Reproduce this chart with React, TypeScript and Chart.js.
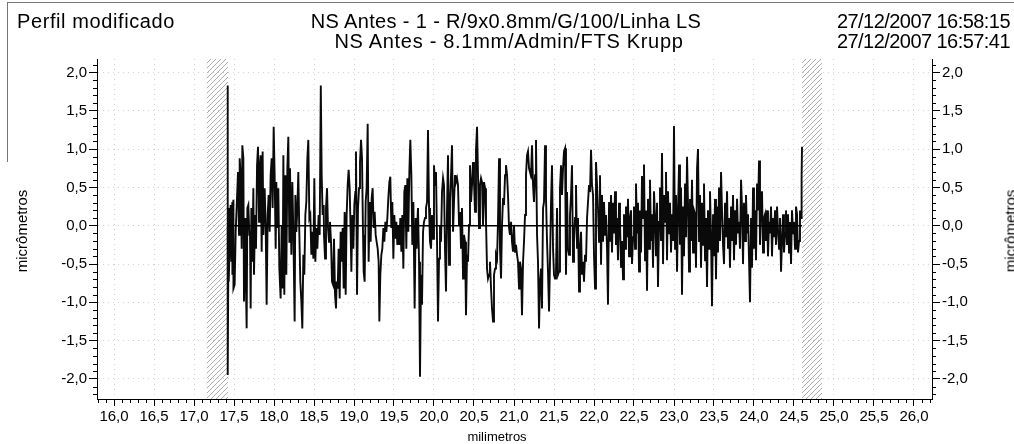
import { useEffect, useRef } from "react";
import { Chart, registerables } from "chart.js";

Chart.register(...registerables);

// ---- Data (millimetres along the profile, micrometres of deviation) ----
const profileMm = [
  17.42, 17.421, 17.422, 17.433, 17.434, 17.45, 17.458, 17.467, 17.479, 17.48, 17.492, 17.493, 17.508, 17.521, 17.533, 17.55,
  17.563, 17.571, 17.583, 17.596, 17.604, 17.617, 17.625, 17.638, 17.65, 17.658, 17.667, 17.679, 17.692, 17.7, 17.708, 17.717,
  17.729, 17.742, 17.75, 17.763, 17.775, 17.788, 17.8, 17.813, 17.821, 17.833, 17.846, 17.858, 17.867, 17.883, 17.896, 17.908,
  17.921, 17.933, 17.946, 17.958, 17.971, 17.983, 17.996, 18.008, 18.021, 18.029, 18.042, 18.054, 18.067, 18.083, 18.096, 18.108,
  18.117, 18.129, 18.142, 18.154, 18.167, 18.179, 18.192, 18.2, 18.217, 18.229, 18.242, 18.258, 18.267, 18.279, 18.292, 18.304,
  18.317, 18.329, 18.342, 18.354, 18.367, 18.379, 18.392, 18.404, 18.417, 18.429, 18.442, 18.454, 18.467, 18.479, 18.492, 18.504,
  18.517, 18.529, 18.542, 18.558, 18.571, 18.585, 18.596, 18.608, 18.621,
  18.625, 18.638, 18.65, 18.663, 18.675, 18.688, 18.7, 18.713, 18.725, 18.738, 18.75, 18.763, 18.775, 18.783, 18.796, 18.808,
  18.821, 18.833, 18.846, 18.858, 18.871, 18.883, 18.896, 18.908, 18.921, 18.933, 18.946, 18.958, 18.967, 18.979, 18.992, 19.004,
  19.017, 19.025, 19.038, 19.05, 19.063, 19.075, 19.088, 19.1, 19.113, 19.121, 19.133, 19.146, 19.158, 19.171, 19.183, 19.196,
  19.208, 19.221, 19.233, 19.246, 19.258, 19.271, 19.283, 19.296, 19.308, 19.317, 19.329, 19.342, 19.354, 19.367, 19.379, 19.392,
  19.404, 19.417, 19.429, 19.442, 19.454, 19.467, 19.479, 19.492, 19.504, 19.517, 19.529, 19.542, 19.554, 19.567, 19.579, 19.592,
  19.604, 19.617, 19.629, 19.642, 19.654, 19.667, 19.679, 19.692, 19.704, 19.717, 19.729, 19.742, 19.758, 19.771, 19.783, 19.796,
  19.8, 19.813, 19.825, 19.838, 19.85, 19.863, 19.875, 19.888, 19.9, 19.913, 19.925, 19.938, 19.95, 19.963, 19.975, 19.988,
  20.0, 20.013, 20.025, 20.038, 20.05, 20.063, 20.075, 20.088, 20.1, 20.113, 20.125, 20.138, 20.15, 20.163, 20.175, 20.188,
  20.2, 20.213, 20.225, 20.238, 20.25, 20.263, 20.275, 20.288, 20.3, 20.313, 20.325, 20.338, 20.35, 20.363, 20.375, 20.388,
  20.4, 20.413, 20.425, 20.438, 20.45, 20.463, 20.475, 20.488, 20.5, 20.513, 20.525, 20.538, 20.55, 20.563, 20.575, 20.588,
  20.6, 20.613, 20.625, 20.638, 20.65, 20.663, 20.675, 20.688, 20.7, 20.713, 20.725, 20.738, 20.75, 20.763, 20.775, 20.788,
  20.8, 20.813, 20.825, 20.838, 20.85, 20.863, 20.875, 20.888, 20.9, 20.913, 20.925, 20.938, 20.95, 20.963, 20.975, 20.988,
  21.0, 21.013,
  21.025, 21.038, 21.05, 21.063, 21.075, 21.088, 21.1, 21.113, 21.125, 21.138, 21.15, 21.163, 21.175, 21.188, 21.2, 21.213,
  21.225, 21.238, 21.25, 21.263, 21.275, 21.288, 21.3, 21.313, 21.325, 21.338, 21.35, 21.363, 21.375, 21.388, 21.4, 21.413,
  21.425, 21.438, 21.45, 21.463, 21.475, 21.488, 21.5, 21.513, 21.525, 21.538, 21.55, 21.563, 21.575, 21.588, 21.6, 21.613,
  21.625, 21.638, 21.65, 21.663, 21.675, 21.688, 21.7, 21.713, 21.725, 21.738, 21.75, 21.763, 21.775, 21.788, 21.8, 21.813,
  21.825, 21.838, 21.85, 21.863, 21.875, 21.888, 21.9, 21.913, 21.925, 21.938, 21.95, 21.963, 21.975, 21.988, 22.0, 22.013,
  22.025, 22.038, 22.05, 22.063, 22.075, 22.088, 22.1, 22.113, 22.125, 22.138, 22.15, 22.163, 22.175, 22.188, 22.2, 22.213,
  22.225, 22.238, 22.25, 22.263, 22.275, 22.288, 22.3, 22.313, 22.325, 22.338, 22.35, 22.363, 22.375, 22.388, 22.4, 22.413,
  22.425, 22.438, 22.45, 22.463, 22.475, 22.488, 22.5, 22.513, 22.525, 22.538, 22.55, 22.563, 22.575, 22.588, 22.6, 22.613,
  22.625, 22.638, 22.65, 22.663, 22.675, 22.688, 22.7, 22.713, 22.725, 22.738, 22.75, 22.763, 22.775, 22.788, 22.8, 22.813,
  22.825, 22.838, 22.85, 22.863, 22.875, 22.888, 22.9, 22.913, 22.925, 22.938, 22.95, 22.963, 22.975, 22.988, 23.0, 23.013,
  23.025, 23.038, 23.05, 23.063, 23.075, 23.088, 23.1, 23.113, 23.125, 23.138, 23.15, 23.163, 23.175, 23.188, 23.2, 23.213,
  23.225, 23.238, 23.25, 23.263, 23.275, 23.288, 23.3, 23.313, 23.325, 23.338, 23.35, 23.363, 23.375, 23.388, 23.4, 23.413,
  23.425, 23.438, 23.45, 23.463, 23.475, 23.488, 23.5, 23.513, 23.525, 23.538, 23.55, 23.563, 23.575, 23.588, 23.6, 23.613,
  23.625, 23.638, 23.65, 23.663, 23.675, 23.688, 23.7, 23.713, 23.725, 23.738, 23.75, 23.763, 23.775, 23.788, 23.8, 23.813,
  23.825, 23.838, 23.85, 23.863, 23.875, 23.888, 23.9, 23.913, 23.925, 23.938, 23.95, 23.963, 23.975, 23.988, 24.0, 24.013,
  24.025, 24.038, 24.05, 24.063, 24.075, 24.088, 24.1, 24.113, 24.125, 24.138, 24.15, 24.163, 24.175, 24.188, 24.2, 24.213,
  24.225, 24.238, 24.25, 24.263, 24.275, 24.288, 24.3, 24.313, 24.325, 24.338, 24.35, 24.363, 24.375, 24.388, 24.4, 24.413,
  24.425, 24.438, 24.45, 24.463, 24.475, 24.488, 24.5, 24.513, 24.525, 24.538, 24.55, 24.563, 24.575, 24.588, 24.595, 24.6,
];

const profileUm = [
  0, 1.83, -1.95, 0.23, -0.73, -0.08, 0.27, -0.47, 0.31, -0.64, 0.34, -0.82, -0.77, -0.08, 0.23, 0.70,
  -0.12, 0.88, 0.66, -0.30, 1.05, 0.88, -0.99, 0.10, -0.82, -1.34, 0.23, 0.27, -0.12, -0.08, -1.08, 0.23,
  -0.47, 0.49, -0.64, 0.14, -0.30, 0.79, 1.03, 0.05, 0.75, 0.92, -0.34, 0.97, -0.12, 0.49, 0.01, -1.03,
  0.14, 0.40, -0.08, 0.66, 0.88, 0.23, 1.29, 0.66, -0.30, 0.57, -0.03, 0.49, -0.56, -0.95, 0.01, -0.82,
  0.92, -0.90, 0.66, -0.64, 0.75, 1.16, -0.21, 0.75, -0.38, 0.57, -0.08, -1.25, 0.40, -0.08, 0.23, 0.70,
  -0.12, -0.73, -0.99, -1.34, -0.38, -0.64, 0.14, 0.31, 0.88, 1.12, 0.10, 0.14, -0.38, -0.08, -0.43, 0.62,
  -0.47, -0.03, -0.30, 0.14, -0.12, 1.83, 0.66, 0.14, 0.27,
  -0.12, -0.43, 0.23, 0.49, -0.03, -0.21, 0.05, -0.21, -0.73, -0.77, -0.17, -0.90, -1.08, -0.73, -0.82, -0.30,
  -0.95, -0.08, -0.47, -0.03, -0.82, 0.18, -0.90, 0.14, 0.53, 0.73, 0.49, -0.08, -0.60, 0.14, -0.30, 0.27,
  0.44, 0.97, -0.90, 0.23, 0.49, 0.83, 1.12, 0.88, -0.12, -0.60, -0.73, 0.31, 0.49, 1.33, -0.47, 0.31,
  -0.21, 0.36, 0.49, -0.03, 0.18, -0.12, -0.21, -0.30, -0.47, -1.25, -0.64, -0.38, -0.30, -0.03, -0.21, 0.05,
  -0.08, 0.10, 0.36, 0.57, 0.64, -0.03, 0.31, -0.43, 0.14, -0.17, 0.05, -0.25, 0.01, -0.25, 0.10, -0.34,
  0.14, -0.56, 0.44, 0.53, -0.30, 0.62, -0.08, 0.70, 1.12, 0.66, -0.25, 0.31, -1.08, 0.10, -0.30, 0.14,
  0.23, -0.47, -1.97, -0.64, -1.03, -0.08, 0.05, 0.10, 0.23, 0.31, 1.25, 0.23, -0.21, -0.30, 0.14, -0.17,
  0.79, 0.53, 0.70, -0.21, -1.25, -0.43, 0.01, -0.21, 0.44, 0.62, 0.53, -0.34, -0.86, 0.23, 0.92, -0.51,
  0.31, 0.66, 1.05, -0.08, 0.31, 0.66, 0.57, 0.62, 0.53, 0.01, 0.18, -0.30, 0.23, -0.69, -0.12, -0.21,
  -1.17, -0.38, -0.47, 0.01, 0.79, 0.31, 0.53, 0.83, 0.57, 0.18, 0.99, 1.29, 0.66, -0.03, 0.53, 0.62,
  0.57, 0.01, 0.57, 0.49, 0.05, -0.56, -0.69, -0.64, -0.47, -0.82, -1.08, -1.25, -0.64, -0.56, -0.38, -0.43,
  0.05, 0.88, -0.30, -0.69, 0.01, 0.36, 0.27, 0.66, 0.79, 0.66, 0.40, -0.03, -0.12, 0.05, -0.21, -0.34,
  0.01, -0.34,
  -0.25, -0.38, -0.47, -0.82, -0.47, -0.56, -1.17, -0.47, -0.21, 0.14, 0.66, 0.92, 0.97, 0.75, 0.70, 0.66,
  1.05, 0.53, 0.31, 0.66, 1.12, -0.12, -0.47, -1.34, -0.73, -0.56, -1.08, 0.23, 0.31, 1.05, 0.36, -0.21,
  -0.60, -1.12, -0.47, 0.31, 0.79, -0.30, -0.64, -0.69, -0.60, 0.23, -0.64, -0.60, 0.49, 0.79, 0.40, 0.75,
  0.97, 1.01, -0.64, 0.44, -0.30, -0.38, 0.14, 0.40, 0.79, -0.47, -0.21, 0.10, 0.53, -0.30, 0.10, -0.86,
  -0.30, -0.08, -0.64, -0.47, -0.73, -0.38, -0.47, 0.10, 0.31, 0.53, 0.44, 0.99, 0.53, 0.40, -0.38, -0.82,
  0.83, 0.53, 0.23, -0.21, 0.66, -0.51, 0.40, -0.21, 0.31, -0.12, 0.14, -0.30, -1.03, 0.31, -0.21, 0.40,
  -0.35, 0.30, -0.10, 0.45, -0.25, 0.10, -0.45, 0.30, 0.05, -0.55, -0.20, -0.70, 0.15, -0.30, 0.25, -0.15,
  0.35, -0.40, 0.10, 0.20, -0.50, -0.15, 0.25, -0.30, 0.55, -0.10, 0.30, -0.60, 0.20, -0.35, 0.65, 0.10,
  0.80, -0.45, 0.20, -0.85, 0.35, -0.30, 0.60, -0.20, 0.15, -0.55, 0.45, 0.10, -0.40, 0.30, -0.80, 0.05,
  0.50, -0.20, 0.95, -0.50, 0.40, 0.05, 0.70, -0.45, 0.45, -0.10, 0.30, -0.35, 0.15, -0.20, 1.30, -0.30,
  0.40, -0.60, 0.20, 0.80, -0.25, 0.50, -0.90, 0.25, -0.40, 0.55, -0.15, 0.90, 0.30, -0.60, 0.35, -0.20,
  0.60, -0.35, 0.20, 0.15, -0.55, 0.75, 1.00, -0.20, 0.40, -0.55, 0.30, -0.25, 0.55, -0.45, 0.10, -0.80,
  0.20, -0.30, 0.45, -0.15, -1.05, 0.15, -0.40, 0.35, -0.70, 0.25, -0.35, 0.50, -0.20, 0.70, 0.20, -0.25,
  -0.50, 0.30, -0.15, 0.45, -0.30, 0.10, -0.55, 0.25, -0.20, 0.40, -0.45, 0.20, -0.25, 0.35, -0.10, 0.05,
  -0.30, 0.60, 0.25, -0.50, 0.30, -0.20, 0.40, -0.10, 0.15, -0.45, -1.00, 0.10, -0.55, 0.50, -0.30, 0.20,
  -0.45, 0.55, 0.20, 0.85, -0.25, 0.30, 0.45, -0.35, 0.10, 0.15, -0.20, 0.20, -0.40, 0.05, -0.10, 0.25,
  -0.40, 0.10, -0.15, 0.20, -0.25, 0.25, -0.05, -0.30, 0.10, -0.60, -0.20, 0.15, -0.35, -0.10, 0.20, -0.25,
  0.15, -0.35, 0.05, -0.50, 0.20, -0.10, 0.05, -0.30, 0.25, 0.15, -0.35, -0.20, 0.20, 0.10, 0.63, 1.03,
];

// mean (reference) line of the evaluated profile
const meanLineMm = [17.42, 24.6];
const meanLineUm = [0, 0];

// excluded (hatched) zones at both ends of the evaluation length
const hatchStartMm = [17.16, 24.6];
const hatchEndMm = [17.425, 24.85];

// axis ranges
const X_MIN = 15.7875;
const X_MAX = 26.225;
const Y_MIN = -2.262;
const Y_MAX = 2.176;

const titleLeft = "Perfil modificado";
const titleCenter1 = "NS Antes - 1 - R/9x0.8mm/G/100/Linha LS";
const titleCenter2 = "NS Antes - 8.1mm/Admin/FTS Krupp";
const titleDate1 = "27/12/2007 16:58:15";
const titleDate2 = "27/12/2007 16:57:41";
const yTitle = "micrômetros";
const xTitle = "milimetros";

const FONT = "'Liberation Sans', Arial, Helvetica, sans-serif";
const fmt = (v: number) => v.toFixed(1).replace(".", ",");

function makeHatch(): CanvasPattern | string {
  const c = document.createElement("canvas");
  c.width = 5;
  c.height = 5;
  const g = c.getContext("2d");
  if (!g) return "#ccc";
  g.strokeStyle = "#959595";
  g.lineWidth = 0.8;
  g.beginPath();
  g.moveTo(-1, 6);
  g.lineTo(6, -1);
  g.stroke();
  const p = g.createPattern(c, "repeat");
  return p || "#ccc";
}

const hatchPlugin = {
  id: "hatchBands",
  beforeDatasetsDraw(chart: any) {
    const { ctx, chartArea } = chart;
    const xs = chart.scales.x;
    ctx.save();
    ctx.fillStyle = makeHatch();
    for (let i = 0; i < hatchStartMm.length; i++) {
      const a = xs.getPixelForValue(hatchStartMm[i]);
      const b = xs.getPixelForValue(hatchEndMm[i]);
      ctx.fillRect(a, chartArea.top, b - a, chartArea.bottom - chartArea.top);
    }
    ctx.restore();
  },
};

const minorTickPlugin = {
  id: "minorTicks",
  afterDraw(chart: any) {
    const { ctx, chartArea } = chart;
    ctx.save();
    ctx.strokeStyle = "#000";
    ctx.lineWidth = 1;
    ctx.beginPath();
    const xs = chart.scales.x;
    for (let k = Math.ceil(X_MIN * 10); k <= Math.floor(X_MAX * 10); k++) {
      if (k % 5 === 0) continue;
      const px = Math.round(xs.getPixelForValue(k / 10)) + 0.5;
      ctx.moveTo(px, chartArea.bottom);
      ctx.lineTo(px, chartArea.bottom + 4);
    }
    const ys = chart.scales.y;
    for (let k = Math.ceil(Y_MIN * 10); k <= Math.floor(Y_MAX * 10); k++) {
      if (k % 5 === 0) continue;
      const py = Math.round(ys.getPixelForValue(k / 10)) + 0.5;
      ctx.moveTo(chartArea.left - 4, py);
      ctx.lineTo(chartArea.left, py);
      ctx.moveTo(chartArea.right, py);
      ctx.lineTo(chartArea.right + 4, py);
    }
    ctx.stroke();
    ctx.restore();
  },
};

export default function App() {
  const ref = useRef<HTMLCanvasElement | null>(null);

  useEffect(() => {
    document.body.style.margin = "0";
    const canvas = ref.current;
    if (!canvas) return;
    const tickFont = { family: FONT, size: 15 };
    const chart = new Chart(canvas, {
      type: "line",
      data: {
        datasets: [
          {
            data: meanLineMm.map((x, i) => ({ x, y: meanLineUm[i] })),
            borderColor: "#000",
            borderWidth: 1.5,
            pointRadius: 0,
          },
          {
            data: profileMm.map((x, i) => ({ x, y: profileUm[i] })),
            borderColor: "#0a0a0a",
            borderWidth: 1.9,
            pointRadius: 0,
            tension: 0,
          },
        ],
      },
      plugins: [hatchPlugin, minorTickPlugin],
      options: {
        animation: false,
        responsive: false,
        maintainAspectRatio: false,
        layout: { padding: { top: 59, left: 0, right: 0, bottom: 0 } },
        plugins: { legend: { display: false }, tooltip: { enabled: false } },
        scales: {
          x: {
            type: "linear",
            position: "bottom",
            min: X_MIN,
            max: X_MAX,
            afterFit: (s: any) => {
              s.height = 45;
            },
            ticks: {
              stepSize: 0.5,
              includeBounds: false,
              autoSkip: false,
              maxRotation: 0,
              minRotation: 0,
              color: "#000",
              font: tickFont,
              padding: 2,
              callback: (v: any) => fmt(Number(v)),
            },
            grid: {
              color: "#d2d2d2",
              lineWidth: 1,
              tickLength: 7,
              tickColor: "#000",
              tickWidth: 1,
            },
            border: { display: true, color: "#000", width: 1, dash: [1, 4] },
          },
          y: {
            type: "linear",
            position: "left",
            min: Y_MIN,
            max: Y_MAX,
            afterFit: (s: any) => {
              s.width = 97;
            },
            ticks: {
              stepSize: 0.5,
              includeBounds: false,
              color: "#000",
              font: tickFont,
              padding: 2,
              callback: (v: any) => fmt(Number(v)),
            },
            grid: {
              color: "#d2d2d2",
              lineWidth: 1,
              tickLength: 8,
              tickColor: "#000",
              tickWidth: 1,
            },
            border: { display: true, color: "#000", width: 1, dash: [1, 4] },
          },
          y2: {
            type: "linear",
            position: "right",
            min: Y_MIN,
            max: Y_MAX,
            afterFit: (s: any) => {
              s.width = 82;
            },
            ticks: {
              stepSize: 0.5,
              includeBounds: false,
              color: "#000",
              font: tickFont,
              padding: 2,
              callback: (v: any) => fmt(Number(v)),
            },
            grid: {
              drawOnChartArea: false,
              tickLength: 8,
              tickColor: "#000",
              tickWidth: 1,
            },
            border: { display: true, color: "#000", width: 1 },
          },
        },
      },
    } as any);
    return () => chart.destroy();
  }, []);

  const txt: any = {
    position: "absolute",
    fontFamily: FONT,
    color: "#000",
    whiteSpace: "nowrap",
    lineHeight: 1,
  };

  return (
    <div style={{ position: "relative", width: 1014, height: 444, background: "#fff", overflow: "hidden" }}>
      <canvas ref={ref} width={1014} height={444} style={{ position: "absolute", left: 0, top: 0, width: 1014, height: 444 }} />
      <div style={{ position: "absolute", left: 7, top: 2, width: 1007, height: 0, borderTop: "1px solid #777" }} />
      <div style={{ position: "absolute", left: 7, top: 2, width: 0, height: 160, borderLeft: "1px solid #777" }} />
      <div style={{ ...txt, left: 17, top: 11, fontSize: 20, letterSpacing: 0.6 }}>{titleLeft}</div>
      <div style={{ ...txt, left: 506, top: 11, fontSize: 20, letterSpacing: 0.35, transform: "translateX(-50%)" }}>{titleCenter1}</div>
      <div style={{ ...txt, left: 509, top: 31, fontSize: 20, letterSpacing: 0.7, transform: "translateX(-50%)" }}>{titleCenter2}</div>
      <div style={{ ...txt, right: 4, top: 11, fontSize: 20, letterSpacing: -0.55 }}>{titleDate1}</div>
      <div style={{ ...txt, right: 4, top: 31, fontSize: 20, letterSpacing: -0.55 }}>{titleDate2}</div>
      <div style={{ ...txt, left: 21, top: 231, fontSize: 15, transform: "translate(-50%, -50%) rotate(-90deg)" }}>{yTitle}</div>
      <div style={{ ...txt, left: 1010, top: 231, fontSize: 15, transform: "translate(-50%, -50%) rotate(-90deg)" }}>{yTitle}</div>
      <div style={{ ...txt, left: 497, top: 436, fontSize: 13, transform: "translate(-50%, -50%)" }}>{xTitle}</div>
    </div>
  );
}
